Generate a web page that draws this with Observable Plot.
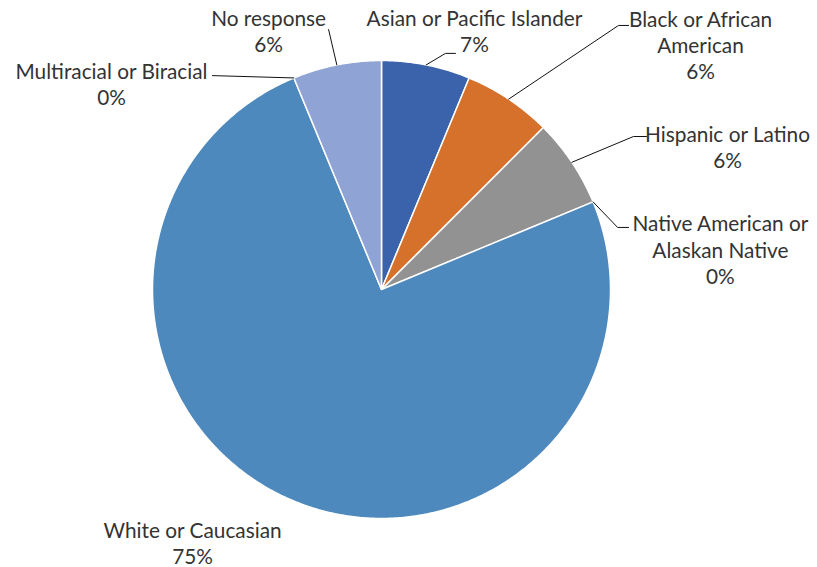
<!DOCTYPE html>
<html><head><meta charset="utf-8">
<script src="https://cdn.jsdelivr.net/npm/d3@7"></script>
<script src="https://cdn.jsdelivr.net/npm/@observablehq/plot@0.6"></script>
<style>body{margin:0;background:#fff}</style>
</head><body><div id="chart"></div>
<script>
// ---- data ----
const categories = ["Asian or Pacific Islander","Black or African American","Hispanic or Latino","Native American or Alaskan Native","White or Caucasian","Multiracial or Biracial","No response"];
const shares = [6.25, 6.25, 6.25, 0, 75, 0, 6.25];
const percentLabels = ["7%","6%","6%","0%","75%","0%","6%"];
const labelText = ["Asian or Pacific Islander","Black or African\nAmerican","Hispanic or Latino","Native American or\nAlaskan Native","White or Caucasian","Multiracial or Biracial","No response"];

// ---- styles / layout ----
const colors = ["#3A63AC","#D5712B","#929292","#E8B92E","#4E89BD","#2E4F8A","#8FA3D4"];
const W = 817, H = 567, CX = 381, CY = 289, R = 229;
// label block centers in radius units relative to pie center
const labelPos = [[0.406,1.131],[1.393,1.070],[1.511,0.624],[1.480,0.175],[-0.825,-1.105],[-1.179,0.900],[-0.493,1.131]];
// leader line points after the slice edge point (radius units)
const leaderPts = [
  [[0.279,1.031],[0.323,1.031]],
  [[1.035,1.153],[1.079,1.153]],
  [[1.100,0.668],[1.157,0.668]],
  [[1.031,0.271],[1.079,0.271]],
  [],
  [[-0.738,0.934]],
  [[-0.231,1.135]]
];

const pie = d3.pie().sort(null).value(d => d).startAngle(0).endAngle(2*Math.PI);
const arcs = pie(shares);
const polys = [];
arcs.forEach((a, i) => {
  if (a.endAngle - a.startAngle <= 0) return;
  polys.push({k: i, x: 0, y: 0});
  const n = Math.max(2, Math.ceil((a.endAngle - a.startAngle) / (Math.PI/360)));
  for (let j = 0; j <= n; j++) {
    const t = a.startAngle + (a.endAngle - a.startAngle) * j / n;
    polys.push({k: i, x: Math.sin(t), y: Math.cos(t)});
  }
  polys.push({k: i, x: 0, y: 0});
});

const leaders = [];
arcs.forEach((a, i) => {
  if (!leaderPts[i].length) return;
  const m = (a.startAngle + a.endAngle) / 2;
  leaders.push({k: i, x: Math.sin(m), y: Math.cos(m)});
  leaderPts[i].forEach(p => leaders.push({k: i, x: p[0], y: p[1]}));
});

const labels = categories.map((c, i) => ({
  text: labelText[i] + "\n" + percentLabels[i], x: labelPos[i][0], y: labelPos[i][1]
}));

const chart = Plot.plot({
  width: W, height: H,
  margin: 0,
  x: {domain: [-CX/R, (W-CX)/R], range: [0, W], axis: null},
  y: {domain: [(CY-H)/R, CY/R], range: [H, 0], axis: null},
  color: {type: "identity"},
  style: {background: "#fff", fontFamily: "Lato, 'Open Sans', sans-serif"},
  marks: [
    Plot.line(polys, {x: "x", y: "y", z: "k", fill: d => colors[d.k], stroke: "#fff", strokeWidth: 1.5, strokeLinejoin: "round"}),
    Plot.line(leaders, {x: "x", y: "y", z: "k", stroke: "#111", strokeWidth: 1}),
    Plot.text(labels, {x: "x", y: "y", text: "text", fontSize: 20.8, lineHeight: 1.27, lineAnchor: "middle", fill: "#333", textAnchor: "middle"})
  ]
});
document.getElementById("chart").appendChild(chart);
</script>
</body></html>
